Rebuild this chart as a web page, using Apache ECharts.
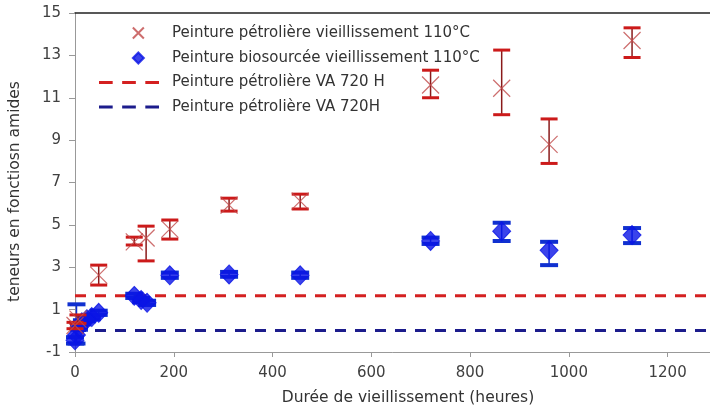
<!DOCTYPE html>
<html>
<head>
<meta charset="utf-8">
<script src="https://cdn.jsdelivr.net/npm/echarts@6/dist/echarts.min.js"></script>
<style>
  html, body { margin: 0; padding: 0; background: #fff; }
  #chart { width: 710px; height: 410px; }
</style>
</head>
<body>
<div id="chart"></div>
<script>
// peinture pétrolière vieillissement 110°C : [heures, valeur, bas, haut]
const petroPoints = [
  [0, 0.25, 0.1, 0.4],
  [6, 0.55, 0.35, 0.75],
  [48, 2.63, 2.16, 3.1],
  [120, 4.2, 4.05, 4.42],
  [144, 4.38, 3.3, 4.94],
  [192, 4.8, 4.33, 5.23],
  [312, 5.93, 5.65, 6.26],
  [456, 6.12, 5.75, 6.45],
  [720, 11.6, 11.0, 12.3],
  [864, 11.45, 10.2, 13.25],
  [960, 8.8, 7.9, 10.0],
  [1128, 13.7, 12.9, 14.3]
]
// peinture biosourcée vieillissement 110°C
const bioPoints = [
  [0, -0.45, -0.6, -0.3],
  [3, -0.2, -0.6, 1.25],
  [8, 0.15, 0.05, 0.25],
  [14, 0.4, 0.3, 0.5],
  [24, 0.55, 0.45, 0.65],
  [34, 0.65, 0.55, 0.75],
  [48, 0.85, 0.75, 0.95],
  [120, 1.65, 1.55, 1.75],
  [134, 1.45, 1.35, 1.55],
  [146, 1.32, 1.22, 1.42],
  [192, 2.62, 2.5, 2.75],
  [312, 2.66, 2.55, 2.78],
  [456, 2.62, 2.5, 2.75],
  [720, 4.24, 4.1, 4.4],
  [864, 4.7, 4.24, 5.1],
  [960, 3.8, 3.1, 4.2],
  [1128, 4.52, 4.14, 4.85]
]
const vaPetro = 1.65   // Peinture pétrolière VA 720 H
const vaBio = 0.02     // Peinture pétrolière VA 720H
const xRange = [0, 1300]
const yRange = [-1, 15]

const names = [
  'Peinture pétrolière vieillissement 110°C',
  'Peinture biosourcée vieillissement 110°C',
  'Peinture pétrolière VA 720 H',
  'Peinture pétrolière VA 720H'
]

const FONT = 'DejaVu Sans'
const chart = echarts.init(document.getElementById('chart'))

// icônes de légende (le point vide à gauche décale le symbole vers la droite)
const SYMBOL_X = 'path://M0,0L10,10M10,0L0,10'
const ICON_X = 'path://M-17,5L-17,5M0,0L10,10M10,0L0,10'
const ICON_DIAMOND = 'path://M-17,5L-17,5M5,0L10,5L5,10L0,5Z'
const ICON_DASH = 'path://M0,0h13v3h-13zM22,0h13v3h-13zM44,0h13v3h-13z'

// barres d'erreur verticales avec capuchons
function errorBars(lineColor, capColor, capW, capH) {
  return function (params, api) {
    const hi = api.coord([api.value(0), api.value(2)])
    const lo = api.coord([api.value(0), api.value(1)])
    return {
      type: 'group',
      children: [
        { type: 'line', shape: { x1: hi[0], y1: hi[1], x2: lo[0], y2: lo[1] },
          style: { stroke: lineColor, lineWidth: 1.5 } },
        { type: 'line', shape: { x1: hi[0] - capW / 2, y1: hi[1], x2: hi[0] + capW / 2, y2: hi[1] },
          style: { stroke: capColor, lineWidth: capH } },
        { type: 'line', shape: { x1: lo[0] - capW / 2, y1: lo[1], x2: lo[0] + capW / 2, y2: lo[1] },
          style: { stroke: capColor, lineWidth: capH } }
      ]
    }
  }
}

const option = {
  animation: false,
  backgroundColor: '#fff',
  grid: { left: 75, right: -7, top: 13, bottom: 58, containLabel: false, outerBoundsMode: 'none' },
  legend: {
    orient: 'vertical',
    left: 94,
    top: 20,
    itemWidth: 60,
    itemHeight: 11,
    itemGap: 9.5,
    symbolKeepAspect: true,
    textStyle: { fontFamily: FONT, fontSize: 15, color: '#333', padding: [0, 0, 0, 8] },
    data: [
      { name: names[0], icon: ICON_X },
      { name: names[1], icon: ICON_DIAMOND },
      { name: names[2], icon: ICON_DASH },
      { name: names[3], icon: ICON_DASH }
    ]
  },
  xAxis: [{
    type: 'value',
    min: xRange[0], max: xRange[1], interval: 200,
    name: 'Durée de vieillissement (heures)',
    nameLocation: 'middle',
    nameGap: 38,
    nameTextStyle: { fontFamily: FONT, fontSize: 15.5, color: '#333', padding: [0, 0, 0, 24] },
    axisLine: { onZero: false, lineStyle: { color: '#999', width: 1 } },
    axisTick: { show: true, length: 5, lineStyle: { color: '#999' } },
    axisLabel: {
      fontFamily: FONT, fontSize: 15, color: '#404040', margin: 14, showMaxLabel: false,
      formatter: v => String(v)
    },
    splitLine: { show: false }
  }, {
    type: 'value',
    position: 'top',
    min: xRange[0], max: xRange[1],
    axisLine: { show: true, onZero: false, lineStyle: { color: '#222', width: 1.5 } },
    axisTick: { show: false },
    axisLabel: { show: false },
    splitLine: { show: false }
  }],
  yAxis: {
    type: 'value',
    min: yRange[0], max: yRange[1], interval: 2,
    name: 'teneurs en fonctiosn amides',
    nameLocation: 'middle',
    nameGap: 52,
    nameTextStyle: { fontFamily: FONT, fontSize: 15.5, color: '#333', padding: [0, 18, 0, 0] },
    axisLine: { show: true, onZero: false, lineStyle: { color: '#999', width: 1 } },
    axisTick: { show: true, length: 6, lineStyle: { color: '#999' } },
    axisLabel: { fontFamily: FONT, fontSize: 15, color: '#404040', margin: 14 },
    splitLine: { show: false }
  },
  series: [
    {
      name: names[2],
      type: 'line',
      symbol: 'none',
      data: [[xRange[0], vaPetro], [xRange[1], vaPetro]],
      lineStyle: { color: '#d42020', width: 3, type: [11, 9] },
      itemStyle: { color: '#d42020' },
      z: 1
    },
    {
      name: names[3],
      type: 'line',
      symbol: 'none',
      data: [[xRange[0], vaBio], [xRange[1], vaBio]],
      lineStyle: { color: '#1c1c8c', width: 3, type: [11, 9] },
      itemStyle: { color: '#1c1c8c' },
      z: 1
    },
    {
      type: 'custom',
      renderItem: errorBars('#1030d0', '#1030d0', 18, 4),
      data: bioPoints.map(p => [p[0], p[2], p[3]]),
      z: 2
    },
    {
      name: names[1],
      type: 'scatter',
      symbol: 'diamond',
      symbolSize: [18, 19],
      data: bioPoints.map(p => [p[0], p[1]]),
      itemStyle: { color: '#0a14e6', borderColor: '#0a14e6', borderWidth: 1 },
      z: 3
    },
    {
      type: 'custom',
      renderItem: errorBars('#8a1a1a', '#cc1a1a', 17, 3),
      data: petroPoints.map(p => [p[0], p[2], p[3]]),
      z: 4
    },
    {
      name: names[0],
      type: 'scatter',
      symbol: SYMBOL_X,
      symbolSize: 17,
      data: petroPoints.map(p => [p[0], p[1]]),
      itemStyle: { color: 'none', borderColor: '#c04848', borderWidth: 1.2 },
      z: 5
    }
  ]
}

chart.setOption(option)
</script>
</body>
</html>
